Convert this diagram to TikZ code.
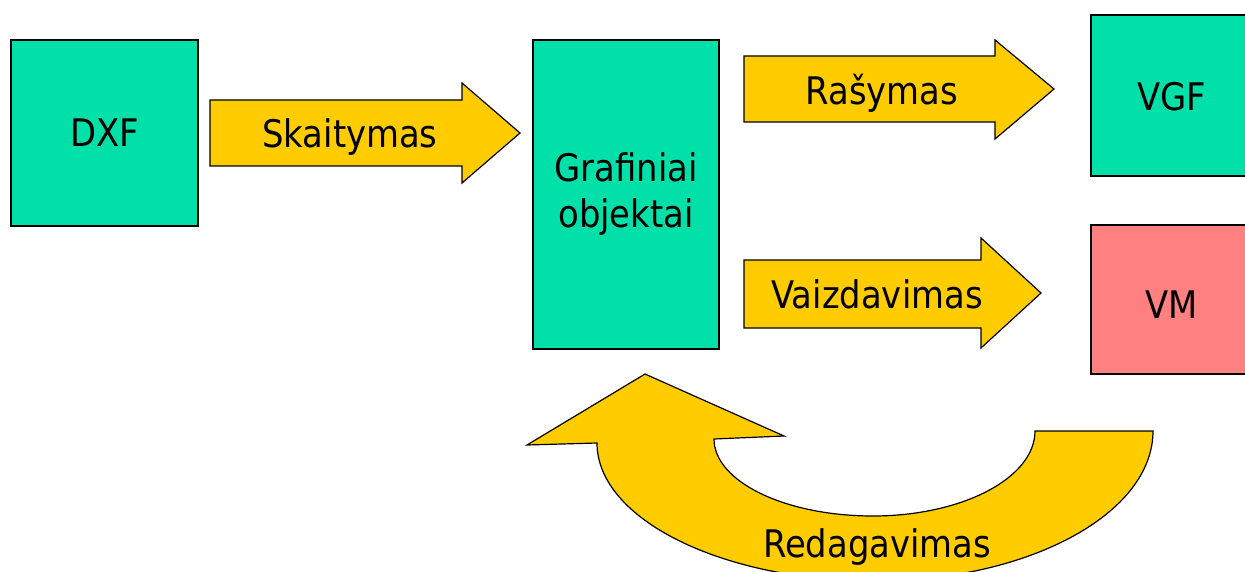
\documentclass[tikz,border=0pt]{standalone}
\usepackage{fontspec}
\setmainfont{DejaVu Sans}[FakeStretch=0.89]
\definecolor{boxgreen}{HTML}{00E0A8}
\definecolor{boxred}{HTML}{FF8080}
\definecolor{flowyellow}{HTML}{FFCC00}
\begin{document}
\begin{tikzpicture}[x=1pt,y=-1pt,line join=miter]
\tikzset{
  box/.style={draw=black,line width=1.3pt,fill=boxgreen,inner sep=0pt,
    font=\fontsize{38}{46}\selectfont,align=center},
  flow/.style={draw=black,line width=1.2pt,fill=flowyellow},
  lbl/.style={inner sep=0pt,font=\fontsize{38}{46}\selectfont,anchor=base},
}
\useasboundingbox (0,0) rectangle (1245,572);
\clip (0,0) rectangle (1245,572);

% data stores
\node[box,minimum width=187pt,minimum height=186pt] (dxf) at (104.5,133) {DXF};
\node[box,minimum width=186pt,minimum height=309pt] (obj) at (626,194.5)
  {Grafiniai\\objektai};
\node[box,minimum width=170pt,minimum height=161pt] (vgf) at (1176,95.5) {};
\node[box,fill=boxred,minimum width=170pt,minimum height=149pt] (vm) at (1176,299.5) {};
\node[lbl] (vgft) at (1172,111) {VGF};
\node[lbl] (vmt) at (1172,318) {VM};

% block arrows
\draw[flow] (210,100) -- (462,100) -- (462,83) -- (520,133)
  -- (462,183) -- (462,166) -- (210,166) -- cycle;
\node[lbl] (read) at (350,148) {Skaitymas};

\draw[flow] (744,56) -- (995,56) -- (995,40) -- (1054,89)
  -- (995,139) -- (995,122) -- (744,122) -- cycle;
\node[lbl] (write) at (882,105) {Rašymas};

\draw[flow] (744,260) -- (981,260) -- (981,238) -- (1041,293)
  -- (981,348) -- (981,328) -- (744,328) -- cycle;
\node[lbl] (show) at (877,308) {Vaizdavimas};

% curved editing arrow back to the graphic objects
\draw[flow] (1153,431) -- (1035,431)
  .. controls (1035,478) and (962,516) .. (873,516)
  .. controls (784,516) and (714,481) .. (714,439)
  -- (784,436) -- (645,374) -- (527,445) -- (597,443)
  .. controls (597,519) and (722,581) .. (875,581)
  .. controls (1028,581) and (1153,514) .. (1153,431) -- cycle;
\node[lbl] (edit) at (877,557) {Redagavimas};
\end{tikzpicture}
\end{document}
